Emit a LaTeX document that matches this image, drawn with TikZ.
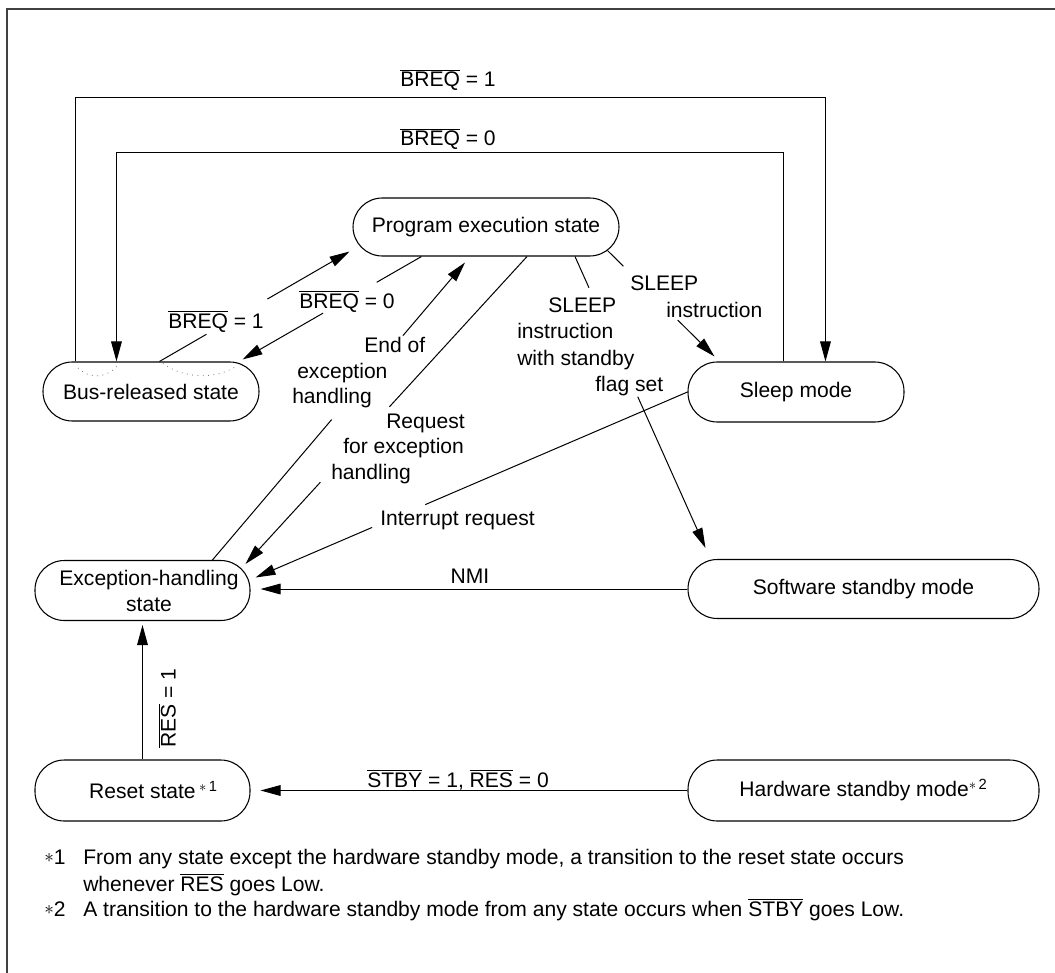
\documentclass[tikz,border=0pt]{standalone}
\usepackage{fontspec}
\setmainfont{Liberation Sans}
\usetikzlibrary{arrows.meta,calc}
\newlength\pxu \setlength\pxu{0.75pt}
\newcommand\ovl[1]{$\overline{\mbox{#1}}$}
\newcommand\fnast{\raisebox{0.8pt}{$\ast$}}
\begin{document}
\begin{tikzpicture}[x=0.75pt,y=-0.75pt,
  every node/.style={font=\fontsize{15.8pt}{19.5pt}\selectfont, inner sep=0pt},
  state/.style={draw, line width=0.8pt, rounded corners=22pt, minimum height=59\pxu, align=center},
  conn/.style={line width=0.75pt},
  arr/.style={conn, -{Triangle[length=15pt,width=8pt]}},
  lbl/.style={anchor=base west},
  dots/.style={gray, line width=0.7pt, dash pattern=on 0.6pt off 3.4pt},
]
\useasboundingbox (0,0) rectangle (1055,973);
\draw[line width=1.4pt, black!75] (1060,9) -- (7,9) -- (7,980);

% states
\node[state, minimum width=266\pxu, minimum height=58\pxu] (prog) at (486,227) {Program execution state};
\node[state, minimum width=216\pxu] (bus) at (151,391.5) {Bus-released state};
\node[state, minimum width=216\pxu, minimum height=60\pxu] (sleep) at (796,392) {Sleep mode};
\node[state, minimum width=215\pxu, minimum height=60\pxu] (exc) at (142.5,590.5) {\hspace*{13\pxu}Exception-handling\\\hspace*{13\pxu}state};
\node[state, minimum width=351\pxu] (soft) at (863.5,589) {Software standby mode};
\node[state, minimum width=215\pxu, minimum height=61\pxu] (reset) at (142.5,790.5) {\hspace*{22\pxu}Reset state\,\textsuperscript{$\ast$\,1}};
\node[state, minimum width=351\pxu, minimum height=61\pxu] (hard) at (863.5,790.5) {Hardware standby mode\textsuperscript{$\ast$\,2}};

% dotted traces inside the bus-released state
\draw[dots] (78,368) .. controls (88,378) and (105,380) .. (118,365);
\draw[dots] (163,363) .. controls (180,378) and (215,380) .. (235,367);

% outer loop: BREQ = 1 (bus -> sleep)
\draw[arr] ($(bus.north west)+(33,0)$) -- ++(0,-264) -| ($(sleep.north west)+(138,0)$);
\node[lbl] (t1) at (400,87) {\ovl{BREQ} = 1};
% inner loop: BREQ = 0 (sleep -> bus)
\draw[arr] ($(sleep.north west)+(96,0)$) -- ++(0,-209) -| ($(bus.north west)+(74,0)$);
\node[lbl] (t2) at (400,146) {\ovl{BREQ} = 0};

% bus -> prog, BREQ = 1
\coordinate (a3) at ($(bus.north west)+(117,0)$);
\coordinate (b3) at ($(prog.south west)+(-3,-5)$);
\draw[conn] (a3) -- ($(a3)!0.247!(b3)$);
\draw[arr] ($(a3)!0.568!(b3)$) -- (b3);
\node[lbl] at (168,328) {\ovl{BREQ} = 1};

% prog -> bus, BREQ = 0
\coordinate (a4) at ($(prog.south west)+(69,0)$);
\coordinate (b4) at ($(bus.north east)+(-17,-2)$);
\draw[conn] (a4) -- ($(a4)!0.25!(b4)$);
\draw[arr] ($(a4)!0.55!(b4)$) -- (b4);
\node[lbl] at (299,308) {\ovl{BREQ} = 0};

% exc -> prog, end of exception handling
\coordinate (a5) at ($(exc.north west)+(178,0)$);
\coordinate (b5) at ($(prog.south)+(-21,6)$);
\draw[conn] (a5) -- ($(a5)!0.472!(b5)$);
\draw[arr] ($(a5)!0.754!(b5)$) -- (b5);
\node[lbl] at (364,352) {End of};
\node[lbl] at (297,378) {exception};
\node[lbl] at (292,403) {handling};

% prog -> exc, request for exception handling
\coordinate (a6) at ($(prog.south)+(41,0)$);
\coordinate (b6) at ($(exc.north east)+(-5,4)$);
\draw[conn] (a6) -- ($(a6)!0.489!(b6)$);
\draw[arr] ($(a6)!0.734!(b6)$) -- (b6);
\node[lbl] at (386,428) {Request};
\node[lbl] at (343,453) {for exception};
\node[lbl] at (331,479) {handling};

% prog -> sleep, SLEEP instruction
\coordinate (a7) at ($(prog.south east)+(-12,-6)$);
\coordinate (b7) at ($(sleep.north west)+(27,-5)$);
\draw[conn] (a7) -- ($(a7)!0.148!(b7)$);
\draw[arr] ($(a7)!0.657!(b7)$) -- (b7);
\node[lbl] at (630,291) {SLEEP};
\node[lbl] at (666,317) {instruction};

% prog -> soft, SLEEP instruction with standby flag set
\coordinate (a8) at ($(prog.south)+(89,0)$);
\coordinate (b8) at ($(soft.north west)+(18,-11)$);
\draw[conn] (a8) -- ($(a8)!0.107!(b8)$);
\draw[arr] ($(a8)!0.481!(b8)$) -- (b8);
\node[lbl] at (548,312) {SLEEP};
\node[lbl] at (517,338) {instruction};
\node[lbl] at (517,365) {with standby};
\node[lbl] at (595,391) {flag set};

% sleep -> exc, interrupt request
\coordinate (b9) at ($(exc.east)+(5,-13)$);
\draw[conn] (sleep.west) -- ($(sleep.west)!0.607!(b9)$);
\draw[arr] ($(sleep.west)!0.73!(b9)$) -- (b9);
\node[lbl] at (380,525) {Interrupt request};

% soft -> exc, NMI
\draw[arr] (soft.west) -- ($(soft.west -| exc.east)+(10,0)$);
\node[anchor=base] at (470,583) {NMI};

% reset -> exc, RES = 1
\draw[arr] (reset.north) -- ($(exc.south)+(0,4)$);
\node[rotate=90] at (167,708) {\ovl{RES} = 1};

% hard -> reset
\draw[arr] (hard.west) -- ($(hard.west -| reset.east)+(10,0)$);
\node[lbl] at (367,787) {\ovl{STBY} = 1, \ovl{RES} = 0};

% footnotes
\node[lbl] at (44,864) {\fnast1};
\node[lbl] at (83,864) {From any state except the hardware standby mode, a transition to the reset state occurs};
\node[lbl] at (83,891) {whenever \ovl{RES} goes Low.};
\node[lbl] at (44,916) {\fnast2};
\node[lbl] at (83,916) {A transition to the hardware standby mode from any state occurs when \ovl{STBY} goes Low.};
\end{tikzpicture}
\end{document}
